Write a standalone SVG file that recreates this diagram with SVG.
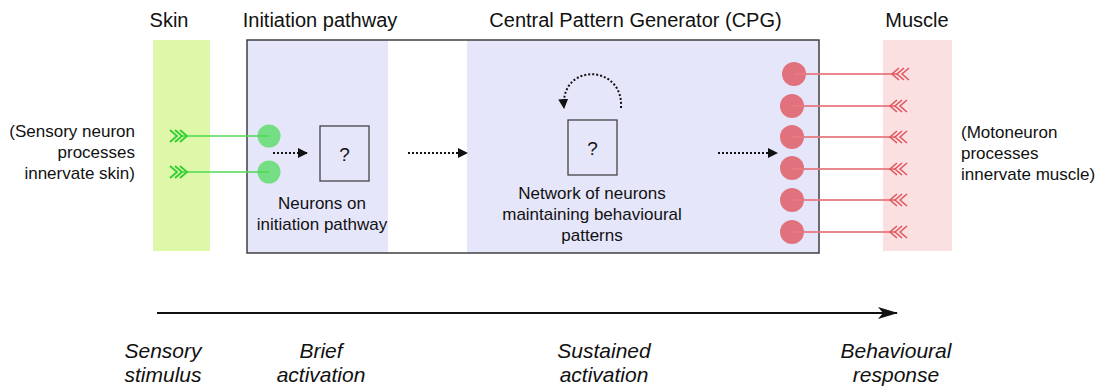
<svg xmlns="http://www.w3.org/2000/svg" width="1097" height="389" viewBox="0 0 1097 389">
  <style>
    text { font-family: "Liberation Sans", Arial, Helvetica, sans-serif; fill: #111; }
    .title { font-size: 20px; }
    .body { font-size: 17px; }
    .q { font-size: 19px; text-anchor: middle; }
    .phase { font-size: 21px; font-style: italic; text-anchor: middle; }
    .mid { text-anchor: middle; }
    .dot { fill: none; stroke: #111; stroke-width: 2; stroke-dasharray: 2 2; }
    .nbox { fill: none; stroke: #444; stroke-width: 1.3; }
    .gline { stroke: #4fd855; stroke-width: 1.6; fill: none; }
    .gchev { stroke: #2fd02f; stroke-width: 1.8; fill: none; }
    .rline { stroke: #e77a82; stroke-width: 1.8; fill: none; opacity: 0.9; }
    .rchev { stroke: #e0525b; stroke-width: 1.5; fill: none; }
    .gcell { fill: #6fdc7d; opacity: 0.95; }
    .rcell { fill: #e06c76; opacity: 0.95; }
  </style>
  <defs>
    <marker id="tri" viewBox="0 0 10 10" refX="9" refY="5" markerWidth="10" markerHeight="10" markerUnits="userSpaceOnUse" orient="auto">
      <path d="M0,0 L10,5 L0,10 Z" fill="#111"/>
    </marker>
    <marker id="timeHead" viewBox="0 0 20 12" refX="19" refY="6" markerWidth="20" markerHeight="12" markerUnits="userSpaceOnUse" orient="auto">
      <path d="M0,0 L20,6 L0,12 L5,6 Z" fill="#111"/>
    </marker>
    <path id="chevR" d="M0,-6 L7,0 L0,6 M5,-6 L12,0 L5,6 M10,-6 L17,0 L10,6"/>
    <path id="chevL" d="M17,-6 L10,0 L17,6 M12,-6 L5,0 L12,6 M7,-6 L0,0 L7,6"/>
  </defs>

  <!-- tissue bands -->
  <g id="skin">
    <rect x="153" y="40" width="57" height="211" fill="#dff7a9"/>
    <text class="title mid" x="169" y="27">Skin</text>
  </g>
  <g id="muscle">
    <rect x="883" y="40" width="69" height="211" fill="#fbe0e1"/>
    <text class="title mid" x="917" y="27">Muscle</text>
  </g>

  <!-- nervous system frame -->
  <g id="frame">
    <rect x="247" y="40" width="572" height="213" fill="#ffffff"/>
    <rect x="247" y="40" width="141" height="213" fill="#e6e6fb"/>
    <rect x="467" y="40" width="352" height="213" fill="#e6e6fb"/>
    <rect x="247" y="40" width="572" height="213" fill="none" stroke="#333" stroke-width="1.4"/>
  </g>

  <g id="initiation-pathway">
    <text class="title mid" x="320" y="27">Initiation pathway</text>
    <rect class="nbox" x="320" y="126" width="49" height="55"/>
    <text class="q" x="344.5" y="161">?</text>
    <text class="body mid" x="322" y="209">Neurons on</text>
    <text class="body mid" x="322" y="230">initiation pathway</text>
  </g>

  <g id="cpg">
    <text class="title mid" x="635.5" y="27">Central Pattern Generator (CPG)</text>
    <rect class="nbox" x="568" y="120" width="49" height="55"/>
    <text class="q" x="592.5" y="155">?</text>
    <text class="body mid" x="592" y="199">Network of neurons</text>
    <text class="body mid" x="592" y="220">maintaining behavioural</text>
    <text class="body mid" x="592" y="241">patterns</text>
  </g>

  <g id="sensory-label">
    <text class="body" text-anchor="end" x="135" y="137">(Sensory neuron</text>
    <text class="body" text-anchor="end" x="135" y="158">processes</text>
    <text class="body" text-anchor="end" x="135" y="179">innervate skin)</text>
  </g>
  <g id="motor-label">
    <text class="body" x="961" y="138">(Motoneuron</text>
    <text class="body" x="961" y="159">processes</text>
    <text class="body" x="961" y="180">innervate muscle)</text>
  </g>

  <!-- sensory neurons -->
  <g id="sensory-neurons">
    <circle class="gcell" cx="269" cy="136" r="11.5"/>
    <circle class="gcell" cx="269" cy="172" r="11.5"/>
  </g>

  <!-- motoneurons -->
  <g id="motoneurons">
    <circle class="rcell" cx="794" cy="74" r="12"/>
    <circle class="rcell" cx="792" cy="106" r="12"/>
    <circle class="rcell" cx="792" cy="137" r="12"/>
    <circle class="rcell" cx="792" cy="168" r="12"/>
    <circle class="rcell" cx="792" cy="200" r="12"/>
    <circle class="rcell" cx="792" cy="232" r="12"/>
  </g>

  <g id="connectors">
    <!-- sensory processes into skin -->
    <line class="gline" x1="182" y1="136" x2="269" y2="136"/>
    <line class="gline" x1="182" y1="172" x2="269" y2="172"/>
    <use href="#chevR" class="gchev" x="170" y="136"/>
    <use href="#chevR" class="gchev" x="170" y="172"/>

    <!-- motoneuron processes into muscle -->
    <line class="rline" x1="794" y1="74" x2="898" y2="74"/>
    <line class="rline" x1="792" y1="106" x2="896" y2="106"/>
    <line class="rline" x1="792" y1="137" x2="896" y2="137"/>
    <line class="rline" x1="792" y1="169" x2="896" y2="169"/>
    <line class="rline" x1="792" y1="200" x2="896" y2="200"/>
    <line class="rline" x1="792" y1="232" x2="896" y2="232"/>
    <use href="#chevL" class="rchev" x="892" y="74"/>
    <use href="#chevL" class="rchev" x="890" y="106"/>
    <use href="#chevL" class="rchev" x="890" y="137"/>
    <use href="#chevL" class="rchev" x="890" y="169"/>
    <use href="#chevL" class="rchev" x="890" y="200"/>
    <use href="#chevL" class="rchev" x="890" y="232"/>

    <!-- signal flow -->
    <line class="dot" x1="273" y1="153" x2="307" y2="153" marker-end="url(#tri)"/>
    <line class="dot" x1="408" y1="153" x2="467" y2="153" marker-end="url(#tri)"/>
    <line class="dot" x1="718" y1="153" x2="777" y2="153" marker-end="url(#tri)"/>
    <path class="dot" d="M621,108 C624,64 560,62 564,108" marker-end="url(#tri)"/>

    <!-- time axis -->
    <line x1="157" y1="313" x2="897" y2="313" stroke="#111" stroke-width="1.8" marker-end="url(#timeHead)"/>
  </g>

  <g id="phases">
    <text class="phase" x="163" y="358">Sensory</text>
    <text class="phase" x="163" y="382">stimulus</text>
    <text class="phase" x="321" y="358">Brief</text>
    <text class="phase" x="321" y="382">activation</text>
    <text class="phase" x="604" y="358">Sustained</text>
    <text class="phase" x="604" y="382">activation</text>
    <text class="phase" x="896" y="358">Behavioural</text>
    <text class="phase" x="896" y="382">response</text>
  </g>
</svg>
